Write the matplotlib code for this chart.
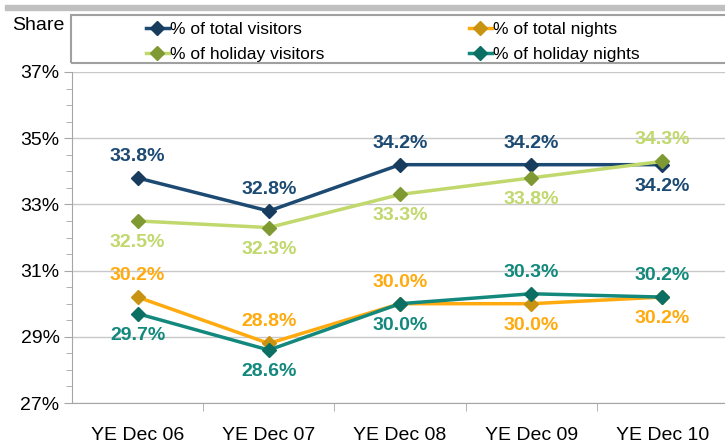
import matplotlib.pyplot as plt
from matplotlib.patches import Rectangle
from matplotlib.ticker import FixedLocator, MultipleLocator, FuncFormatter

plt.rcParams['font.family'] = ['Liberation Sans', 'DejaVu Sans']

years = ['YE Dec 06', 'YE Dec 07', 'YE Dec 08', 'YE Dec 09', 'YE Dec 10']
total_visitors = [33.8, 32.8, 34.2, 34.2, 34.2]
total_nights = [30.2, 28.8, 30.0, 30.0, 30.2]
holiday_visitors = [32.5, 32.3, 33.3, 33.8, 34.3]
holiday_nights = [29.7, 28.6, 30.0, 30.3, 30.2]
y_ticks = [27, 29, 31, 33, 35, 37]

# label placement per point: +1 above, -1 below
pos_tv = [1, 1, 1, 1, -1]
pos_tn = [1, 1, 1, -1, -1]
pos_hv = [-1, -1, -1, -1, 1]
pos_hn = [-1, -1, -1, 1, 1]

series = {
    'tv': ('% of total visitors', total_visitors, pos_tv, '#1c4a73', '#173c5e'),
    'tn': ('% of total nights', total_nights, pos_tn, '#ffab0f', '#c99312'),
    'hv': ('% of holiday visitors', holiday_visitors, pos_hv, '#c0d86c', '#7f9a33'),
    'hn': ('% of holiday nights', holiday_nights, pos_hn, '#12897c', '#0b6f64'),
}

fig = plt.figure(figsize=(7.25, 4.43), dpi=100)
W, H = 725, 443
ax = fig.add_axes([72 / W, (H - 403) / H, (728 - 72) / W, (403 - 72) / H])

x = list(range(len(years)))
handles = {}
for key, (name, vals, pos, col, mcol) in series.items():
    h, = ax.plot(x, vals, color=col, lw=2.5, marker='D', ms=7,
                 mfc=mcol, mec=mcol, label=name, zorder=3)
    handles[key] = h
    for xi, v, p in zip(x, vals, pos):
        ax.annotate(f'{v:.1f}%', (xi, v), xytext=(0, 15.5 * p), textcoords='offset points',
                    ha='center', va='center', color=col, fontsize=14, fontweight='bold')

ax.set_xlim(-0.5, len(years) - 0.5)
ax.set_ylim(27, 37)
ax.yaxis.set_major_locator(FixedLocator(y_ticks))
ax.yaxis.set_minor_locator(MultipleLocator(0.5))
ax.yaxis.set_major_formatter(FuncFormatter(lambda v, _: f'{v:.0f}%'))
ax.set_xticks(x)
ax.set_xticklabels(years)
ax.set_xticks([i + 0.5 for i in x[:-1]], minor=True)
ax.tick_params(axis='x', which='major', length=0, pad=17, labelsize=14)
ax.tick_params(axis='x', which='minor', length=6, color='#a6a6a6')
ax.tick_params(axis='y', which='major', length=6, color='#a6a6a6', labelsize=14, pad=3)
ax.tick_params(axis='y', which='minor', length=4, color='#a6a6a6')
ax.grid(axis='y', which='major', color='#c8c8c8', lw=1)
ax.set_axisbelow(True)
for s in ['top', 'right']:
    ax.spines[s].set_visible(False)
for s in ['left', 'bottom']:
    ax.spines[s].set_color('#a6a6a6')

# top decoration and legend frame
fig.patches.append(Rectangle((5 / W, 1 - 10 / H), 1, 5 / H, transform=fig.transFigure,
                             color='#c0c0c0', zorder=0))
fig.patches.append(Rectangle((71 / W, 1 - 63 / H), 1, 48 / H, transform=fig.transFigure,
                             fill=False, ec='#a0a0a0', lw=1.5, zorder=0))
fig.text(12 / W, 1 - 26 / H, 'Share', fontsize=14, va='center', ha='left')

order = ['tv', 'hv', 'tn', 'hn']
fig.legend(handles=[handles[k] for k in order], loc='upper left',
           bbox_to_anchor=(134 / W, 1 - 10 / H),
           ncol=2, frameon=False, fontsize=12.5, handlelength=1.3, handletextpad=0.1,
           columnspacing=8.3, labelspacing=0.55, borderpad=0.2)

fig.savefig('out.png', dpi=100)
